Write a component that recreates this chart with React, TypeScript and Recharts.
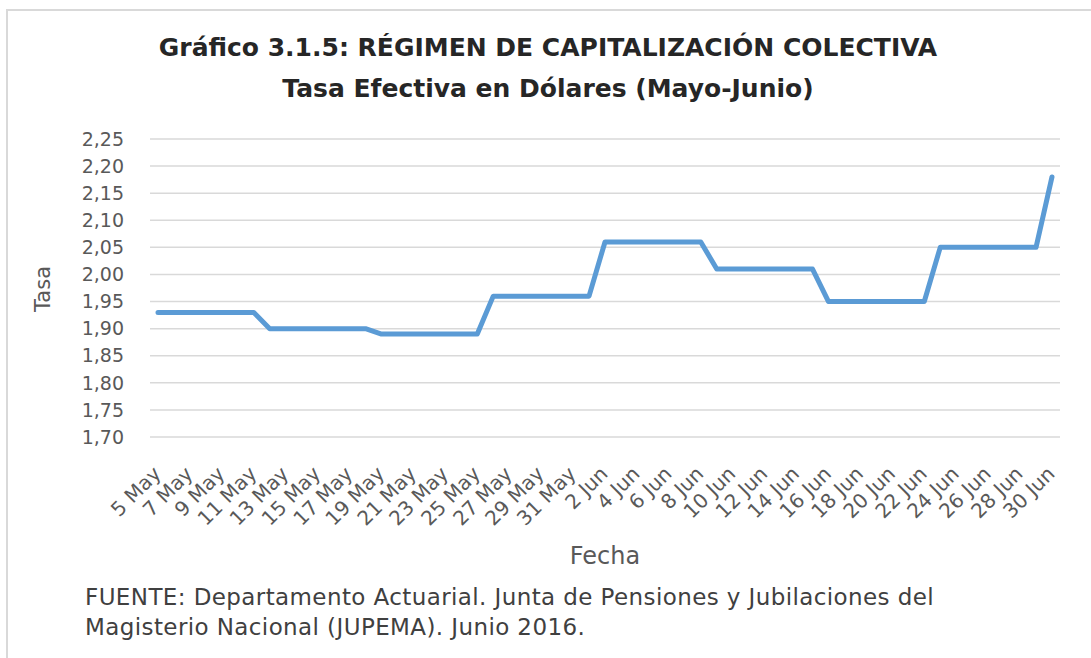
import { LineChart, Line, XAxis, YAxis, CartesianGrid, Label } from "recharts";

// Fecha (cada día, 5 May - 30 Jun 2016)
const fechas = [
  "5 May", "6 May", "7 May", "8 May", "9 May", "10 May", "11 May",
  "12 May", "13 May", "14 May", "15 May", "16 May", "17 May", "18 May",
  "19 May", "20 May", "21 May", "22 May", "23 May", "24 May", "25 May",
  "26 May", "27 May", "28 May", "29 May", "30 May", "31 May", "1 Jun",
  "2 Jun", "3 Jun", "4 Jun", "5 Jun", "6 Jun", "7 Jun", "8 Jun",
  "9 Jun", "10 Jun", "11 Jun", "12 Jun", "13 Jun", "14 Jun", "15 Jun",
  "16 Jun", "17 Jun", "18 Jun", "19 Jun", "20 Jun", "21 Jun", "22 Jun",
  "23 Jun", "24 Jun", "25 Jun", "26 Jun", "27 Jun", "28 Jun", "29 Jun",
  "30 Jun",
];

// Tasa efectiva en dólares
const tasa = [
  1.93, 1.93, 1.93, 1.93, 1.93, 1.93, 1.93,
  1.9, 1.9, 1.9, 1.9, 1.9, 1.9, 1.9,
  1.89, 1.89, 1.89, 1.89, 1.89, 1.89, 1.89,
  1.96, 1.96, 1.96, 1.96, 1.96, 1.96, 1.96,
  2.06, 2.06, 2.06, 2.06, 2.06, 2.06, 2.06,
  2.01, 2.01, 2.01, 2.01, 2.01, 2.01, 2.01,
  1.95, 1.95, 1.95, 1.95, 1.95, 1.95, 1.95,
  2.05, 2.05, 2.05, 2.05, 2.05, 2.05, 2.05,
  2.18,
];

const yTicks = [1.7, 1.75, 1.8, 1.85, 1.9, 1.95, 2.0, 2.05, 2.1, 2.15, 2.2, 2.25];

const data = fechas.map((f, i) => ({ fecha: f, tasa: tasa[i] }));

const FONT = "'DejaVu Sans', sans-serif";
const GRAY = "#595959";

const fmt = (v: number) => v.toFixed(2).replace(".", ",");

function DateTick({ x, y, payload }: any) {
  const ax = x + 4;
  const ay = y + 30;
  return (
    <text
      x={ax}
      y={ay}
      transform={`rotate(-45 ${ax} ${ay})`}
      textAnchor="end"
      fontSize={20}
      fill={GRAY}
      fontFamily={FONT}
    >
      {payload.value}
    </text>
  );
}

export default function App() {
  return (
    <div
      style={{
        position: "absolute",
        left: 0,
        top: 0,
        width: 1091,
        height: 658,
        background: "#fff",
        overflow: "hidden",
        fontFamily: FONT,
      }}
    >
      <div
        style={{
          position: "absolute",
          left: 6,
          top: 9,
          width: 1100,
          height: 680,
          border: "2px solid #d9d9d9",
        }}
      />
      <div
        style={{
          position: "absolute",
          left: 0,
          top: 27,
          width: 1096,
          textAlign: "center",
          fontWeight: "bold",
          fontSize: 25,
          lineHeight: "41px",
          color: "#262626",
        }}
      >
        <div>Gráfico 3.1.5: RÉGIMEN DE CAPITALIZACIÓN COLECTIVA</div>
        <div>Tasa Efectiva en Dólares (Mayo-Junio)</div>
      </div>
      <div style={{ position: "absolute", left: 0, top: 0 }}>
        <LineChart
          width={1091}
          height={658}
          data={data}
          margin={{ top: 139, right: 31, bottom: 0, left: 0 }}
        >
          <CartesianGrid vertical={false} stroke="#d9d9d9" strokeWidth={1.5} />
          <XAxis
            dataKey="fecha"
            interval={1}
            height={221}
            axisLine={false}
            tickLine={false}
            padding={{ left: 8, right: 8 }}
            tick={<DateTick />}
          >
            <Label
              value="Fecha"
              position="insideBottom"
              offset={94}
              fontSize={24}
              fill={GRAY}
              fontFamily={FONT}
            />
          </XAxis>
          <YAxis
            width={150}
            domain={[1.7, 2.25]}
            ticks={yTicks}
            interval={0}
            tickFormatter={fmt}
            axisLine={false}
            tickLine={false}
            tickMargin={20}
            tick={{ fontSize: 19, fill: GRAY, fontFamily: FONT }}
          >
            <Label
              value="Tasa"
              angle={-90}
              position="insideLeft"
              offset={43}
              dy={1}
              fontSize={21}
              fill={GRAY}
              fontFamily={FONT}
              style={{ textAnchor: "middle" }}
            />
          </YAxis>
          <Line
            type="linear"
            dataKey="tasa"
            stroke="#5B9BD5"
            strokeWidth={5}
            strokeLinejoin="round"
            strokeLinecap="round"
            dot={false}
            isAnimationActive={false}
          />
        </LineChart>
      </div>
      <div
        style={{
          position: "absolute",
          left: 85,
          top: 582,
          fontSize: 23,
          lineHeight: "30px",
          letterSpacing: "0.4px",
          color: "#404040",
        }}
      >
        <div>FUENTE: Departamento Actuarial. Junta de Pensiones y Jubilaciones del</div>
        <div>Magisterio Nacional (JUPEMA). Junio 2016.</div>
      </div>
    </div>
  );
}
